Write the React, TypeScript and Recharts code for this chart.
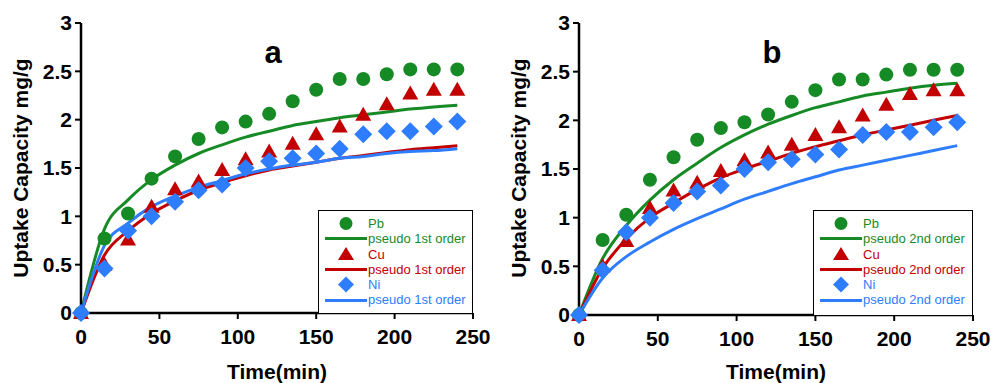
import React from 'react';
import { ComposedChart, Line, XAxis, YAxis } from 'recharts';

const time = [0, 15, 30, 45, 60, 75, 90, 105, 120, 135, 150, 165, 180, 195, 210, 225, 240];

const pb = [0, 0.77, 1.03, 1.39, 1.62, 1.8, 1.92, 1.98, 2.06, 2.19, 2.31, 2.42, 2.42, 2.47, 2.52, 2.52, 2.52];
const cu = [0, 0.5, 0.76, 1.1, 1.28, 1.36, 1.48, 1.59, 1.67, 1.75, 1.85, 1.93, 2.05, 2.16, 2.27, 2.31, 2.31];
const ni = [0, 0.46, 0.85, 1.0, 1.15, 1.27, 1.33, 1.5, 1.57, 1.6, 1.65, 1.7, 1.85, 1.88, 1.88, 1.93, 1.98];

// pseudo 1st order fits (panel a)
const pbFirst = [0, 0.87, 1.17, 1.38, 1.53, 1.65, 1.74, 1.82, 1.88, 1.94, 1.98, 2.02, 2.05, 2.08, 2.11, 2.13, 2.15];
const cuFirst = [0, 0.6, 0.85, 1.03, 1.16, 1.27, 1.35, 1.42, 1.48, 1.52, 1.56, 1.6, 1.63, 1.66, 1.69, 1.71, 1.73];
const niFirst = [0, 0.7, 0.93, 1.1, 1.21, 1.3, 1.37, 1.44, 1.49, 1.53, 1.56, 1.6, 1.62, 1.65, 1.67, 1.68, 1.7];

// pseudo 2nd order fits (panel b)
const pbSecond = [0, 0.58, 0.92, 1.18, 1.39, 1.56, 1.72, 1.85, 1.96, 2.05, 2.13, 2.19, 2.25, 2.29, 2.33, 2.36, 2.38];
const cuSecond = [0, 0.48, 0.78, 1.0, 1.15, 1.29, 1.41, 1.5, 1.58, 1.66, 1.73, 1.79, 1.85, 1.9, 1.95, 2.0, 2.05];
const niSecond = [0, 0.38, 0.6, 0.75, 0.88, 0.99, 1.09, 1.19, 1.27, 1.35, 1.42, 1.49, 1.54, 1.59, 1.64, 1.69, 1.74];

const xTicks = [0, 50, 100, 150, 200, 250];
const yTicks = [0, 0.5, 1, 1.5, 2, 2.5, 3];

const GREEN = '#168a25';
const RED = '#c20000';
const BLUE = '#2f7dff';
const FONT = 'Arial, "Liberation Sans", sans-serif';

const Circle = (p: any) =>
  p.cx == null ? null : <circle key={p.index} cx={p.cx} cy={p.cy} r={7} fill={GREEN} />;
const Tri = (p: any) =>
  p.cx == null ? null : (
    <path key={p.index} d={`M${p.cx},${p.cy - 8}L${p.cx + 8},${p.cy + 6}L${p.cx - 8},${p.cy + 6}Z`} fill={RED} />
  );
const Diamond = (p: any) =>
  p.cx == null ? null : (
    <path key={p.index} d={`M${p.cx},${p.cy - 9}L${p.cx + 9},${p.cy}L${p.cx},${p.cy + 9}L${p.cx - 9},${p.cy}Z`} fill={BLUE} />
  );

const LegendBox = ({ order, style }: { order: string; style: React.CSSProperties }) => {
  const rows = [
    { kind: 'circle', color: GREEN, text: 'Pb' },
    { kind: 'line', color: GREEN, text: order },
    { kind: 'tri', color: RED, text: 'Cu' },
    { kind: 'line', color: RED, text: order },
    { kind: 'diamond', color: BLUE, text: 'Ni' },
    { kind: 'line', color: BLUE, text: order },
  ];
  return (
    <div
      style={{
        position: 'absolute',
        boxSizing: 'border-box',
        border: '1.5px solid #000',
        background: '#fff',
        paddingTop: 5,
        fontFamily: FONT,
        fontSize: 13,
        lineHeight: '15.3px',
        ...style,
      }}
    >
      {rows.map((r, i) => (
        <div key={i} style={{ display: 'flex', alignItems: 'center', height: 15.3 }}>
          <svg width={49} height={15} style={{ flex: 'none', overflow: 'visible' }}>
            {r.kind === 'circle' && <circle cx={27} cy={7.5} r={6.5} fill={r.color} />}
            {r.kind === 'tri' && <path d="M27,0L35,13L19,13Z" fill={r.color} />}
            {r.kind === 'diamond' && <path d="M27,-0.5L35,7.5L27,15.5L19,7.5Z" fill={r.color} />}
            {r.kind === 'line' && <line x1={6} x2={48} y1={7.5} y2={7.5} stroke={r.color} strokeWidth={3} />}
          </svg>
          <span style={{ color: r.color, whiteSpace: 'nowrap' }}>{r.text}</span>
        </div>
      ))}
    </div>
  );
};

function Panel({
  label,
  order,
  fits,
  width,
  left,
  right,
  bottom,
  legendW,
}: {
  label: string;
  order: string;
  fits: number[][];
  width: number;
  left: number;
  right: number;
  bottom: number;
  legendW: number;
}) {
  const data = time.map((t, i) => ({
    t,
    pb: pb[i],
    cu: cu[i],
    ni: ni[i],
    pbFit: fits[0][i],
    cuFit: fits[1][i],
    niFit: fits[2][i],
  }));
  const tickStyle = { fill: '#000', fontSize: 21, fontWeight: 700, fontFamily: FONT };
  const plotW = width - left - right;
  const plotRight = left + plotW;
  return (
    <div style={{ position: 'relative', width, height: 383 }}>
      <ComposedChart width={width} height={383} data={data} margin={{ top: 23, right, bottom: 0, left: 0 }}>
        <XAxis
          dataKey="t"
          type="number"
          domain={[0, 250]}
          ticks={xTicks}
          tick={tickStyle}
          tickSize={6}
          tickMargin={10}
          height={383 - bottom}
          axisLine={{ stroke: '#000', strokeWidth: 2.5 }}
          tickLine={{ stroke: '#000', strokeWidth: 2 }}
          interval={0}
        />
        <XAxis
          xAxisId="top"
          dataKey="t"
          type="number"
          domain={[0, 250]}
          orientation="top"
          height={0}
          tick={false}
          tickLine={false}
          axisLine={{ stroke: '#000', strokeWidth: 2.5 }}
        />
        <YAxis
          type="number"
          domain={[0, 3]}
          ticks={yTicks}
          tick={tickStyle}
          tickSize={6}
          tickMargin={3}
          width={left}
          axisLine={{ stroke: '#000', strokeWidth: 2.5 }}
          tickLine={{ stroke: '#000', strokeWidth: 2 }}
          interval={0}
        />
        <YAxis
          yAxisId="right"
          orientation="right"
          domain={[0, 3]}
          width={0}
          tick={false}
          tickLine={false}
          axisLine={{ stroke: '#000', strokeWidth: 2.5 }}
        />
        <Line dataKey="pb" stroke="none" dot={Circle} activeDot={false} isAnimationActive={false} />
        <Line dataKey="cu" stroke="none" dot={Tri} activeDot={false} isAnimationActive={false} />
        <Line dataKey="pbFit" type="monotone" stroke={GREEN} strokeWidth={3} dot={false} activeDot={false} isAnimationActive={false} />
        <Line dataKey="cuFit" type="monotone" stroke={RED} strokeWidth={3} dot={false} activeDot={false} isAnimationActive={false} />
        <Line dataKey="ni" stroke="none" dot={Diamond} activeDot={false} isAnimationActive={false} />
        <Line dataKey="niFit" type="monotone" stroke={BLUE} strokeWidth={3} dot={false} activeDot={false} isAnimationActive={false} />
        <text
          x={left + plotW * 0.49}
          y={63}
          textAnchor="middle"
          style={{ fontSize: 31, fontWeight: 700, fontFamily: FONT }}
          fill="#000"
        >
          {label}
        </text>
        <text
          x={left + plotW / 2}
          y={379}
          textAnchor="middle"
          style={{ fontSize: 21, fontWeight: 700, fontFamily: FONT }}
          fill="#000"
        >
          Time(min)
        </text>
        <text
          transform={`translate(${left - 53},168) rotate(-90)`}
          x={0}
          y={0}
          textAnchor="middle"
          style={{ fontSize: 21, fontWeight: 700, fontFamily: FONT }}
          fill="#000"
        >
          Uptake Capacity mg/g
        </text>
      </ComposedChart>
      <LegendBox order={order} style={{ left: plotRight - legendW, top: 210, width: legendW, height: bottom - 210 + 1 }} />
    </div>
  );
}

export default function App() {
  return (
    <div style={{ position: 'absolute', left: 0, top: 0, width: 991, height: 383, background: '#fff', display: 'flex' }}>
      <Panel label="a" order="pseudo 1st order" fits={[pbFirst, cuFirst, niFirst]} width={495} left={81} right={22} bottom={313} legendW={155} />
      <Panel label="b" order="pseudo 2nd order" fits={[pbSecond, cuSecond, niSecond]} width={496} left={84} right={18} bottom={315} legendW={160} />
    </div>
  );
}
